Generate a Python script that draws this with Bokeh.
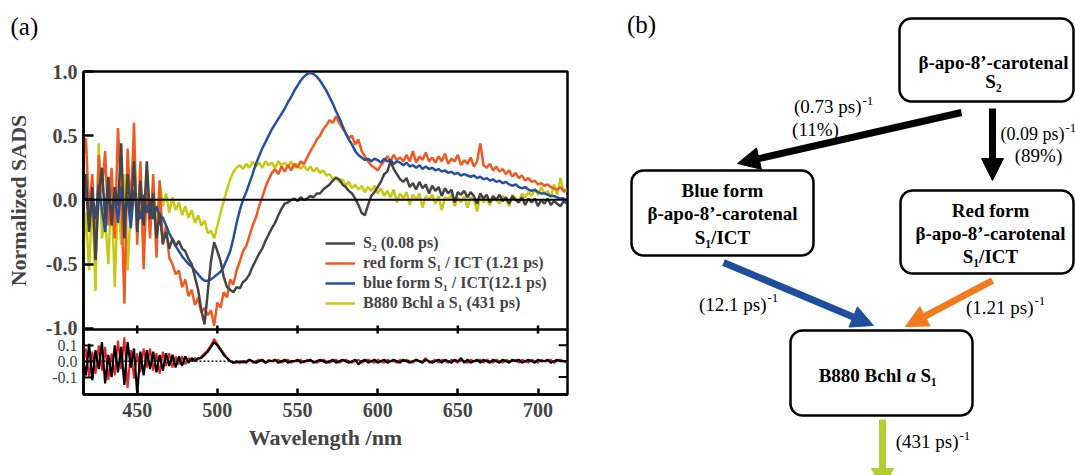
import numpy as np
from bokeh.plotting import figure
from bokeh.models import (Range1d, FixedTicker, Span, Legend, LegendItem, Title, Arrow, NormalHead)
from bokeh.layouts import row, column
from bokeh.embed import file_html
from bokeh.resources import INLINE
from bokeh.core.properties import value

# ---------------- data ----------------
wavelength = list(range(416, 719, 2))

s2 = [-0.10, 0.20, -0.25, 0.10, -0.47, 0.05, 0.25, -0.15, 0.18, -0.20,
      0.10, -0.05, 0.44, -0.30, 0.20, -0.10, 0.30, -0.25, 0.15, -0.20,
      0.30, -0.15, 0.05, -0.30, -0.10, -0.34, -0.25, -0.38, -0.30, -0.36,
      -0.32, -0.38, -0.40, -0.46, -0.50, -0.60, -0.70, -0.86, -0.97, -0.72,
      -0.48, -0.33, -0.40, -0.48, -0.60, -0.68, -0.70, -0.72, -0.68, -0.69,
      -0.64, -0.62, -0.58, -0.52, -0.47, -0.42, -0.38, -0.32, -0.27, -0.22,
      -0.18, -0.12, -0.07, -0.03, -0.02, 0.00, 0.01, -0.01, 0.02, 0.00,
      0.01, 0.03, 0.02, 0.05, 0.05, 0.08, 0.10, 0.12, 0.15, 0.17,
      0.16, 0.12, 0.10, 0.07, 0.05, 0.01, -0.04, -0.10, -0.12, -0.04,
      0.03, 0.06, 0.10, 0.14, 0.20, 0.22, 0.30, 0.24, 0.20, 0.16,
      0.14, 0.17, 0.10, 0.13, 0.08, 0.14, 0.09, 0.12, 0.05, 0.11,
      0.07, 0.10, 0.03, 0.09, 0.05, 0.08, -0.02, 0.06, 0.04, 0.07,
      0.02, 0.06, 0.03, -0.03, 0.05, 0.01, 0.04, -0.02, 0.03, 0.00,
      0.04, -0.01, 0.02, -0.03, 0.03, 0.00, -0.02, 0.02, -0.04, 0.01,
      -0.02, 0.01, -0.05, 0.00, -0.03, 0.01, -0.04, -0.01, -0.03, -0.05, -0.01, -0.03]

red_form = [0.30, 0.48, -0.10, 0.20, -0.45, 0.35, 0.05, 0.38, -0.20, 0.25,
            -0.30, 0.56, 0.05, -0.81, 0.40, -0.10, 0.60, -0.35, 0.30, -0.54,
            0.18, -0.30, 0.20, -0.45, 0.15, -0.35, -0.20, -0.45, -0.50, -0.58,
            -0.55, -0.68, -0.62, -0.75, -0.70, -0.82, -0.76, -0.88, -0.84, -0.90,
            -0.86, -0.98, -0.80, -0.84, -0.72, -0.76, -0.62, -0.66, -0.55, -0.48,
            -0.40, -0.36, -0.28, -0.20, -0.14, -0.05, 0.02, 0.10, 0.16, 0.21,
            0.24, 0.20, 0.26, 0.22, 0.27, 0.23, 0.28, 0.25, 0.30, 0.28,
            0.33, 0.38, 0.42, 0.47, 0.50, 0.55, 0.58, 0.62, 0.60, 0.65,
            0.60, 0.56, 0.52, 0.48, 0.50, 0.43, 0.47, 0.38, 0.34, 0.30,
            0.27, 0.25, 0.23, 0.27, 0.30, 0.34, 0.30, 0.35, 0.31, 0.33,
            0.30, 0.35, 0.30, 0.38, 0.29, 0.34, 0.31, 0.37, 0.30, 0.33,
            0.29, 0.34, 0.30, 0.36, 0.28, 0.32, 0.30, 0.35, 0.27, 0.31,
            0.28, 0.33, 0.26, 0.30, 0.44, 0.27, 0.25, 0.28, 0.23, 0.26,
            0.22, 0.24, 0.20, 0.23, 0.18, 0.21, 0.17, 0.19, 0.15, 0.17,
            0.14, 0.15, 0.12, 0.13, 0.11, 0.12, 0.10, 0.09, 0.08, 0.10, 0.07, 0.08]

blue_form = [-0.05, 0.10, -0.20, 0.05, -0.15, 0.12, -0.08, -0.25, 0.08, -0.12,
             0.05, -0.18, 0.10, -0.10, 0.02, -0.22, 0.08, -0.05, -0.15, 0.04,
             -0.10, 0.00, -0.15, -0.05, -0.12, -0.14, -0.20, -0.26, -0.31, -0.36,
             -0.40, -0.44, -0.47, -0.50, -0.52, -0.55, -0.58, -0.61, -0.63, -0.63,
             -0.62, -0.60, -0.58, -0.56, -0.52, -0.46, -0.40, -0.30, -0.18, -0.08,
             0.00, 0.06, 0.13, 0.20, 0.28, 0.34, 0.40, 0.45, 0.50, 0.55,
             0.59, 0.63, 0.67, 0.71, 0.76, 0.80, 0.85, 0.89, 0.93, 0.96,
             0.98, 0.99, 0.98, 0.96, 0.93, 0.89, 0.85, 0.80, 0.75, 0.69,
             0.64, 0.58, 0.52, 0.47, 0.43, 0.38, 0.35, 0.33, 0.31, 0.32,
             0.30, 0.32, 0.31, 0.29, 0.32, 0.30, 0.31, 0.28, 0.30, 0.29,
             0.27, 0.29, 0.26, 0.27, 0.25, 0.27, 0.24, 0.26, 0.24, 0.25,
             0.23, 0.24, 0.22, 0.23, 0.21, 0.22, 0.20, 0.21, 0.19, 0.20,
             0.19, 0.18, 0.19, 0.17, 0.18, 0.16, 0.17, 0.15, 0.16, 0.14,
             0.15, 0.13, 0.14, 0.12, 0.11, 0.12, 0.10, 0.09, 0.10, 0.08,
             0.07, 0.08, 0.06, 0.05, 0.05, 0.04, 0.03, 0.03, 0.02, 0.01, 0.01, -0.01]

b880 = [-0.45, -0.10, -0.55, 0.05, -0.71, 0.44, -0.30, -0.15, -0.50, 0.10,
        -0.68, 0.05, -0.35, 0.20, -0.55, -0.05, 0.40, -0.20, 0.15, -0.40,
        0.05, -0.15, 0.10, -0.25, 0.15, -0.05, 0.05, -0.10, 0.02, -0.08,
        -0.02, -0.12, -0.05, -0.14, -0.08, -0.18, -0.12, -0.20, -0.16, -0.26,
        -0.24, -0.30, -0.20, -0.10, -0.01, 0.08, 0.16, 0.22, 0.25, 0.27,
        0.24, 0.28, 0.25, 0.30, 0.26, 0.29, 0.25, 0.30, 0.27, 0.29,
        0.25, 0.30, 0.27, 0.29, 0.26, 0.30, 0.25, 0.28, 0.24, 0.27,
        0.23, 0.26, 0.22, 0.25, 0.21, 0.23, 0.19, 0.20, 0.16, 0.18,
        0.14, 0.16, 0.11, 0.14, 0.09, 0.12, 0.08, 0.11, 0.06, 0.10,
        0.07, 0.11, 0.05, 0.09, 0.03, 0.07, 0.02, 0.08, -0.02, 0.05,
        0.01, 0.06, -0.04, 0.04, 0.00, 0.05, -0.06, 0.03, 0.00, 0.04,
        -0.03, 0.03, -0.08, 0.02, 0.00, 0.04, -0.05, 0.02, -0.02, 0.03,
        -0.06, 0.02, 0.00, -0.09, 0.03, -0.02, 0.01, -0.04, 0.02, 0.00,
        -0.03, 0.03, 0.00, -0.05, 0.04, 0.01, -0.02, 0.05, 0.02, 0.06,
        0.03, 0.08, 0.04, 0.10, 0.05, 0.07, 0.02, 0.12, 0.04, 0.17, 0.06, 0.08]

res_black = [0.02, -0.09, 0.11, -0.12, 0.07, -0.05, 0.12, -0.14, 0.04, -0.10,
             0.10, -0.07, 0.09, -0.15, 0.12, -0.04, 0.08, -0.21, 0.06, -0.09,
             0.07, -0.05, 0.06, -0.07, 0.04, -0.06, 0.05, -0.03, 0.04, -0.04,
             0.03, -0.03, 0.03, -0.01, 0.02, 0.00, 0.02, 0.02, 0.04, 0.06,
             0.09, 0.12, 0.10, 0.07, 0.04, 0.02, 0.00, -0.01, 0.00, -0.01,
             0.00, -0.01, 0.01, 0.00, -0.01, 0.00, 0.01, -0.01, 0.00, 0.00,
             0.01, -0.01, 0.00, 0.01, -0.01, 0.00, 0.00, 0.01, -0.01, 0.00,
             0.00, 0.01, -0.01, 0.00, 0.01, 0.00, -0.01, 0.00, 0.01, -0.01,
             0.00, 0.01, 0.00, -0.01, 0.00, 0.01, -0.02, 0.00, 0.01, -0.01,
             0.00, 0.01, -0.01, 0.00, 0.01, -0.01, 0.00, 0.01, 0.00, -0.01,
             0.01, 0.00, -0.01, 0.00, 0.01, 0.00, -0.01, 0.01, 0.00, -0.01,
             0.00, 0.01, -0.01, 0.01, 0.00, -0.01, 0.01, 0.00, 0.02, -0.01,
             0.01, -0.01, 0.00, 0.01, -0.01, 0.01, 0.00, -0.01, 0.01, 0.00,
             -0.01, 0.01, 0.00, -0.01, 0.01, 0.00, 0.01, -0.01, 0.00, 0.01,
             0.00, -0.01, 0.01, 0.00, 0.00, 0.01, -0.01, 0.00, 0.01, 0.00, 0.00, 0.00]

res_red = [-0.04, 0.08, -0.10, 0.06, -0.08, 0.10, -0.06, 0.09, -0.12, 0.05,
           -0.09, 0.13, -0.05, 0.15, -0.17, 0.07, -0.11, 0.05, -0.07, 0.08,
           -0.04, 0.08, -0.06, 0.05, -0.08, 0.06, -0.03, 0.05, -0.04, 0.03,
           -0.02, 0.03, -0.02, 0.02, 0.00, 0.02, 0.01, 0.03, 0.05, 0.07,
           0.10, 0.14, 0.11, 0.08, 0.05, 0.02, 0.00, -0.01, -0.01, 0.00,
           -0.01, 0.00, 0.01, -0.01, 0.00, 0.01, 0.00, -0.01, 0.01, 0.00,
           0.00, 0.01, -0.01, 0.00, 0.01, -0.01, 0.00, 0.00, 0.01, -0.01,
           0.01, 0.00, 0.00, -0.01, 0.00, 0.01, 0.00, -0.01, 0.00, 0.01,
           -0.01, 0.00, 0.01, 0.00, -0.01, 0.00, 0.01, -0.01, 0.00, 0.01,
           0.00, -0.01, 0.01, 0.00, -0.01, 0.01, 0.00, 0.00, -0.01, 0.01,
           0.00, 0.01, 0.00, -0.01, 0.01, 0.00, 0.00, 0.02, -0.01, 0.00,
           0.01, -0.01, 0.01, 0.00, -0.01, 0.01, 0.00, -0.01, 0.01, 0.00,
           -0.01, 0.01, 0.00, 0.00, 0.01, -0.01, 0.01, 0.00, -0.01, 0.01,
           0.00, -0.01, 0.01, 0.00, 0.00, 0.01, -0.01, 0.01, 0.00, -0.01,
           0.01, 0.00, -0.01, 0.01, 0.00, 0.00, 0.01, -0.01, 0.00, 0.01, 0.00, -0.01]

for arr in (s2, red_form, blue_form, b880, res_black, res_red):
    assert len(arr) == len(wavelength), len(arr)

x_ticks = [450, 500, 550, 600, 650, 700]
y_ticks = [-1.0, -0.5, 0.0, 0.5, 1.0]
y_tick_labels = ["-1.0", "-0.5", "0.0", "0.5", "1.0"]
res_ticks = [-0.1, 0.0, 0.1]
res_tick_labels = ["-0.1", "0.0", "0.1"]
res_side_ticks = [-0.1, 0.1]
legend_labels = ["S\u2082 (0.08 ps)", "red form S\u2081 / ICT (1.21 ps)",
                 "blue form S\u2081 / ICT(12.1 ps)", "B880 Bchl a S\u2081 (431 ps)"]

# ---------------- styles ----------------
SERIF = "Liberation Serif, DejaVu Serif, serif"
C_S2 = "#454545"
C_RED = "#f05a22"
C_BLUE = "#2550a2"
C_YEL = "#c9c814"
C_RES_RED = "#e8202a"
LW = 2.5

X0, X1 = 416.5, 718.4
Y0, Y1 = -1.01, 1.0
R0, R1 = -0.21, 0.2
xr = Range1d(X0, X1)
OVER = 12   # px of the upper canvas that lie under the residual panel
STRIP = 58  # height of the strip holding the "(a)" tag

# ---------------- "(a)" strip ----------------
s = figure(width=600, height=STRIP, x_range=Range1d(0, 1), y_range=Range1d(0, 1),
           output_backend="svg", toolbar_location=None,
           x_axis_location=None, y_axis_location=None, min_border=0)
s.title = Title(text="(a)", align="left", offset=-73, standoff=21, vertical_align="bottom",
                text_font=SERIF, text_font_size="25px", text_font_style="normal",
                text_color="black")
s.grid.visible = False
s.outline_line_color = None

# ---------------- top panel ----------------
p = figure(width=600, height=329 + OVER - STRIP, x_range=xr, y_range=Range1d(Y0, Y1),
           output_backend="svg", toolbar_location=None,
           x_axis_location=None, y_axis_location="left",
           min_border_left=83, min_border_right=33, min_border_top=71 - STRIP,
           min_border_bottom=OVER)
p.grid.visible = False
p.outline_line_color = "black"
p.outline_line_width = 2.5

ya = p.yaxis[0]
ya.ticker = FixedTicker(ticks=y_ticks)
ya.major_label_overrides = {t: l for t, l in zip(y_ticks, y_tick_labels)}
ya.major_tick_in = 10
ya.major_tick_out = 0
ya.major_tick_line_width = 2.5
ya.minor_tick_line_color = None
ya.axis_line_width = 2.5
ya.major_label_text_font = SERIF
ya.major_label_text_font_style = "bold"
ya.major_label_text_font_size = "20px"
ya.major_label_standoff = 6
ya.axis_label = "Normalized SADS"
ya.axis_label_text_font = SERIF
ya.axis_label_text_font_style = "bold"
ya.axis_label_text_font_size = "22px"
ya.axis_label_standoff = 12

p.add_layout(Span(location=0, dimension="width", line_color="black", line_width=2))

r_yel = p.line(wavelength, b880, line_color=C_YEL, line_width=LW)
r_red = p.line(wavelength, red_form, line_color=C_RED, line_width=LW)
r_blue = p.line(wavelength, blue_form, line_color=C_BLUE, line_width=LW)
r_s2 = p.line(wavelength, s2, line_color=C_S2, line_width=LW)

# boundary ticks (bottom edge of the upper panel)
p.segment(x0=x_ticks, y0=[Y0] * len(x_ticks), x1=x_ticks, y1=[Y0 + 0.032] * len(x_ticks),
          line_color="black", line_width=2.5)

legend = Legend(items=[LegendItem(label=legend_labels[0], renderers=[r_s2]),
                       LegendItem(label=legend_labels[1], renderers=[r_red]),
                       LegendItem(label=legend_labels[2], renderers=[r_blue]),
                       LegendItem(label=legend_labels[3], renderers=[r_yel])],
                location=(242, 16), orientation="vertical", padding=0, margin=0, spacing=0,
                glyph_width=30, glyph_height=20, label_height=20, label_standoff=8,
                label_text_font=SERIF, label_text_font_style="bold", label_text_font_size="16px",
                border_line_color=None, background_fill_alpha=0)
p.add_layout(legend)

# ---------------- residual panel ----------------
q = figure(width=600, height=146, x_range=xr, y_range=Range1d(R0, R1),
           output_backend="svg", toolbar_location=None,
           min_border_left=83, min_border_right=33, min_border_top=0, min_border_bottom=81)
q.margin = (-OVER, 0, 0, 0)
q.border_fill_alpha = 0
q.grid.visible = False
q.outline_line_color = "black"
q.outline_line_width = 2.5

xa = q.xaxis[0]
xa.ticker = FixedTicker(ticks=x_ticks)
xa.major_tick_in = 6
xa.major_tick_out = 0
xa.major_tick_line_width = 2.5
xa.minor_tick_line_color = None
xa.axis_line_width = 2.5
xa.major_label_text_font = SERIF
xa.major_label_text_font_style = "bold"
xa.major_label_text_font_size = "20px"
xa.major_label_standoff = 8
xa.axis_label = "Wavelength /nm"
xa.axis_label_text_font = SERIF
xa.axis_label_text_font_style = "bold"
xa.axis_label_text_font_size = "22px"
xa.axis_label_standoff = 5

qa = q.yaxis[0]
qa.ticker = FixedTicker(ticks=res_ticks)
qa.major_label_overrides = {t: l for t, l in zip(res_ticks, res_tick_labels)}
qa.major_tick_in = 10
qa.major_tick_out = 0
qa.major_tick_line_width = 2
qa.minor_tick_line_color = None
qa.axis_line_width = 2.5
qa.major_label_text_font = SERIF
qa.major_label_text_font_size = "16px"
qa.major_label_standoff = 6

q.add_layout(Span(location=0, dimension="width", line_color="black", line_width=1.2,
                  line_dash="2 2"))
q.line(wavelength, res_red, line_color=C_RES_RED, line_width=2)
q.line(wavelength, res_black, line_color="black", line_width=2.2)
q.segment(x0=x_ticks, y0=[R1] * len(x_ticks), x1=x_ticks, y1=[R1 - 0.025] * len(x_ticks),
          line_color="black", line_width=2.5)
q.segment(x0=[X1] * len(res_side_ticks), y0=res_side_ticks,
          x1=[X1 - 5.5] * len(res_side_ticks), y1=res_side_ticks,
          line_color="black", line_width=2)

# ---------------- scheme (b) ----------------
d = figure(width=475, height=475, x_range=Range1d(600, 1075), y_range=Range1d(475, 0),
           output_backend="svg", toolbar_location=None,
           x_axis_location=None, y_axis_location=None, min_border=0)
d.grid.visible = False
d.outline_line_color = None


def rbox(x0, y0, x1, y1, r=12, n=10):
    xs, ys = [], []
    for cx, cy, a0 in ((x1 - r, y0 + r, -90), (x1 - r, y1 - r, 0),
                       (x0 + r, y1 - r, 90), (x0 + r, y0 + r, 180)):
        t = np.radians(np.linspace(a0, a0 + 90, n))
        xs.extend(cx + r * np.cos(t))
        ys.extend(cy + r * np.sin(t))
    return xs, ys


boxes = [(899, 18, 1073, 101), (631, 170, 813, 255), (900, 190, 1073, 273), (790, 330, 972, 415)]
bx, by = zip(*[rbox(*b) for b in boxes])
d.patches(xs=list(bx), ys=list(by), fill_color="white", line_color="black", line_width=2.5)

arrows = [((961, 112), (737, 163), "black"),
          ((992, 108), (992, 180), "black"),
          ((723, 262), (873, 325), "#1f4e9e"),
          ((992, 280), (905, 326), "#f47a20"),
          ((882, 419), (882, 490), "#b3cf2f")]
for (xs_, ys_), (xe_, ye_), col in arrows:
    d.add_layout(Arrow(x_start=xs_, y_start=ys_, x_end=xe_, y_end=ye_, line_color=col,
                       line_width=7,
                       end=NormalHead(size=22, fill_color=col, line_color=col, line_width=1)))

bold_txt = dict(text_font=value(SERIF), text_font_style="bold", text_font_size="19px",
                text_baseline="middle", text_color="black")
d.text(x=[993, 993, 722, 722, 722, 990, 990, 990],
       y=[62, 81, 190, 213, 237, 210, 233, 256],
       text=["\u03b2-apo-8\u2019-carotenal", "S\u2082",
             "Blue form", "\u03b2-apo-8\u2019-carotenal", "S\u2081/ICT",
             "Red form", "\u03b2-apo-8\u2019-carotenal", "S\u2081/ICT"],
       text_align="center", **bold_txt)
d.text(x=[901], y=[375], text=["B880 Bchl"], text_align="right", **bold_txt)
d.text(x=[906], y=[375], text=["a"], text_align="left", text_font=value(SERIF),
       text_font_style="bold italic", text_font_size="19px", text_baseline="middle",
       text_color="black")
d.text(x=[920], y=[375], text=["S\u2081"], text_align="left", **bold_txt)

norm_txt = dict(text_font=value(SERIF), text_font_size="19px", text_baseline="middle",
                text_color="black")
sup_txt = dict(text_font=value(SERIF), text_font_size="13px", text_baseline="middle",
               text_color="black", text_align="left")
d.text(x=[861, 766, 1033, 958], y=[106, 304, 307, 441],
       text=["(0.73 ps)", "(12.1 ps)", "(1.21 ps)", "(431 ps)"], text_align="right", **norm_txt)
d.text(x=[862, 767, 1034, 959], y=[100, 297, 300, 435], text=["-1", "-1", "-1", "-1"], **sup_txt)
d.text(x=[815, 1038], y=[129, 155], text=["(11%)", "(89%)"], text_align="center", **norm_txt)
d.text(x=[1064], y=[133], text=["(0.09 ps)"], text_align="right", text_font=value(SERIF),
       text_font_size="18px", text_baseline="middle", text_color="black")
d.text(x=[1065], y=[127], text=["-1"], **sup_txt)
d.text(x=[641], y=[24], text=["(b)"], text_align="center", text_font=value(SERIF),
       text_font_size="25px", text_baseline="middle", text_color="black")

layout = row(column(s, p, q, spacing=0), d, spacing=0)
open("out.html", "w").write(file_html(layout, INLINE))
